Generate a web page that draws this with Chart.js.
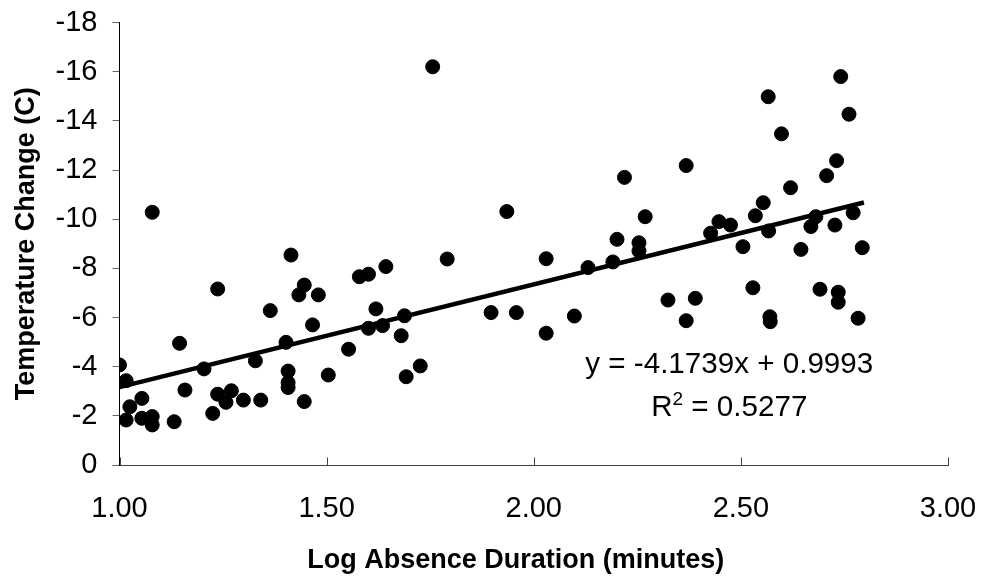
<!DOCTYPE html>
<html>
<head>
<meta charset="utf-8">
<script src="https://cdn.jsdelivr.net/npm/chart.js@4.4.1/dist/chart.umd.min.js"></script>
<style>
html,body{margin:0;padding:0;background:#ffffff;}
#wrap{width:982px;height:578px;position:relative;}
</style>
</head>
<body>
<div id="wrap"><canvas id="c"></canvas></div>
<script>
// ---- data ----
const logDuration = [
  1.000, 1.016, 1.025, 1.016, 1.054, 1.054, 1.079, 1.079, 1.079, 1.132,
  1.145, 1.158, 1.204, 1.225, 1.237, 1.237, 1.257, 1.270, 1.299, 1.341,
  1.328, 1.364, 1.402, 1.407, 1.407, 1.407, 1.414, 1.446, 1.433, 1.446,
  1.466, 1.480, 1.504, 1.553, 1.579, 1.601, 1.643, 1.619, 1.601, 1.635,
  1.688, 1.680, 1.692, 1.726, 1.756, 1.791, 1.897, 1.958, 1.935, 2.030,
  2.030, 2.098, 2.131, 2.191, 2.201, 2.219, 2.254, 2.254, 2.269, 2.324,
  2.368, 2.390, 2.368, 2.427, 2.447, 2.475, 2.505, 2.529, 2.535, 2.554,
  2.566, 2.567, 2.570, 2.571, 2.598, 2.620, 2.645, 2.669, 2.681, 2.691,
  2.707, 2.727, 2.731, 2.735, 2.735, 2.741, 2.761, 2.771, 2.783, 2.793
];
const tempChange = [
  -4.07, -3.43, -2.37, -1.83, -2.71, -1.90, -1.97, -1.63, -10.28, -1.76,
  -4.95, -3.05, -3.91, -2.10, -7.16, -2.88, -2.55, -3.02, -2.64, -2.64,
  -4.24, -6.28, -4.99, -3.82, -3.35, -3.15, -8.54, -2.58, -6.92, -7.32,
  -5.70, -6.92, -3.66, -4.71, -7.66, -7.76, -8.07, -6.35, -5.56, -5.67,
  -6.07, -5.26, -3.59, -4.03, -16.20, -8.38, -6.20, -6.20, -10.31, -8.39,
  -5.36, -6.06, -8.03, -8.26, -9.18, -11.70, -9.04, -8.71, -10.10, -6.71,
  -5.87, -6.78, -12.18, -9.43, -9.90, -9.76, -8.88, -7.21, -10.14, -10.67,
  -14.98, -9.52, -6.03, -5.83, -13.47, -11.28, -8.77, -9.70, -10.10, -7.15,
  -11.77, -9.76, -12.38, -7.03, -6.62, -15.80, -14.27, -10.26, -5.97, -8.84
];
// trend line end points as drawn in the picture
const trendX = [1.000, 2.797];
const trendY = [-3.17, -10.68];

const xTickValues = [1.0, 1.5, 2.0, 2.5, 3.0];
const yTickValues = [0, -2, -4, -6, -8, -10, -12, -14, -16, -18];

const xTitle = 'Log Absence Duration (minutes)';
const yTitle = 'Temperature Change (C)';
const equationText = 'y = -4.1739x + 0.9993';
const r2Label = 'R';
const r2Sup = '2';
const r2Rest = ' = 0.5277';
// label anchor (data units)
const labelAnchorX = 2.472;
const labelAnchorY = [-3.74, -2.0];

// ---- chart ----
const FONT = "'Liberation Sans', Arial, Helvetica, sans-serif";
Chart.defaults.font.family = FONT;
Chart.defaults.color = '#000000';

const scatterPts = logDuration.map((x, i) => ({x: x, y: tempChange[i]}));
const trendPts = trendX.map((x, i) => ({x: x, y: trendY[i]}));

const extrasPlugin = {
  id: 'extras',
  beforeDraw(chart) {
    const s = chart.scales.x;
    if (!s._shiftPatched) {
      const orig = s.drawTitle.bind(s);
      s.drawTitle = function () {
        const ctx = this.ctx;
        ctx.save();
        ctx.translate(-18, 0);
        orig();
        ctx.restore();
      };
      s._shiftPatched = true;
    }
  },
  afterDraw(chart) {
    const ctx = chart.ctx;
    const xs = chart.scales.x, ys = chart.scales.y;
    // inward tick marks on the x axis
    ctx.save();
    ctx.strokeStyle = '#404040';
    ctx.lineWidth = 1;
    const b = Math.round(chart.chartArea.bottom) + 0.5;
    xTickValues.forEach(v => {
      const px = Math.round(xs.getPixelForValue(v)) + 0.5;
      ctx.beginPath();
      ctx.moveTo(px, b);
      ctx.lineTo(px, b - 8);
      ctx.stroke();
    });
    ctx.restore();

    // regression label
    ctx.save();
    ctx.fillStyle = '#000000';
    ctx.textBaseline = 'alphabetic';
    const cx = xs.getPixelForValue(labelAnchorX);
    const big = '29.6px ' + FONT, small = '19px ' + FONT;
    ctx.font = big;
    ctx.textAlign = 'center';
    ctx.fillText(equationText, cx, ys.getPixelForValue(labelAnchorY[0]));
    ctx.textAlign = 'left';
    const y2 = ys.getPixelForValue(labelAnchorY[1]);
    ctx.font = big;
    const wR = ctx.measureText(r2Label).width;
    const wRest = ctx.measureText(r2Rest).width;
    ctx.font = small;
    const wS = ctx.measureText(r2Sup).width;
    let x0 = cx - (wR + wS + wRest) / 2;
    ctx.font = big;
    ctx.fillText(r2Label, x0, y2);
    ctx.font = small;
    ctx.fillText(r2Sup, x0 + wR, y2 - 11);
    ctx.font = big;
    ctx.fillText(r2Rest, x0 + wR + wS, y2);
    ctx.restore();
  }
};

new Chart(document.getElementById('c'), {
  type: 'scatter',
  data: {
    datasets: [
      {
        label: 'Temperature change',
        data: scatterPts,
        backgroundColor: '#000000',
        borderColor: '#000000',
        borderWidth: 1,
        pointRadius: 7,
        pointHoverRadius: 7
      },
      {
        type: 'line',
        label: 'Linear trend',
        data: trendPts,
        borderColor: '#000000',
        borderWidth: 4.5,
        pointRadius: 0,
        fill: false,
        tension: 0
      }
    ]
  },
  options: {
    responsive: true,
    maintainAspectRatio: false,
    animation: false,
    events: [],
    layout: {padding: {top: 22.5, right: 34, bottom: 0, left: 0}},
    plugins: {
      legend: {display: false},
      tooltip: {enabled: false}
    },
    scales: {
      x: {
        type: 'linear',
        min: 1,
        max: 3,
        afterBuildTicks: s => { s.ticks = xTickValues.map(v => ({value: v})); },
        afterFit: s => { s.height = 113; s.paddingLeft = 0; s.paddingRight = 0; },
        grid: {display: true, drawOnChartArea: false, drawTicks: false},
        border: {display: true, color: '#404040', width: 1},
        ticks: {
          padding: 27,
          color: '#000000',
          font: {size: 29},
          maxRotation: 0,
          callback: v => Number(v).toFixed(2)
        },
        title: {
          display: true,
          text: xTitle,
          color: '#000000',
          font: {size: 27, weight: 'bold'},
          padding: {top: 0, bottom: 1}
        }
      },
      y: {
        type: 'linear',
        min: -18,
        max: 0,
        reverse: true,
        afterBuildTicks: s => { s.ticks = yTickValues.map(v => ({value: v})); },
        afterFit: s => { s.width = 119.5; s.paddingTop = 0; s.paddingBottom = 0; },
        grid: {display: true, drawOnChartArea: false, drawTicks: true, tickLength: 7, color: '#666666'},
        border: {display: true, color: '#000000', width: 1},
        ticks: {
          padding: 15,
          color: '#000000',
          font: {size: 29},
          callback: v => String(v)
        },
        title: {
          display: true,
          text: yTitle,
          color: '#000000',
          font: {size: 27, weight: 'bold'},
          padding: {top: 10, bottom: 0}
        }
      }
    }
  },
  plugins: [extrasPlugin]
});
</script>
</body>
</html>
